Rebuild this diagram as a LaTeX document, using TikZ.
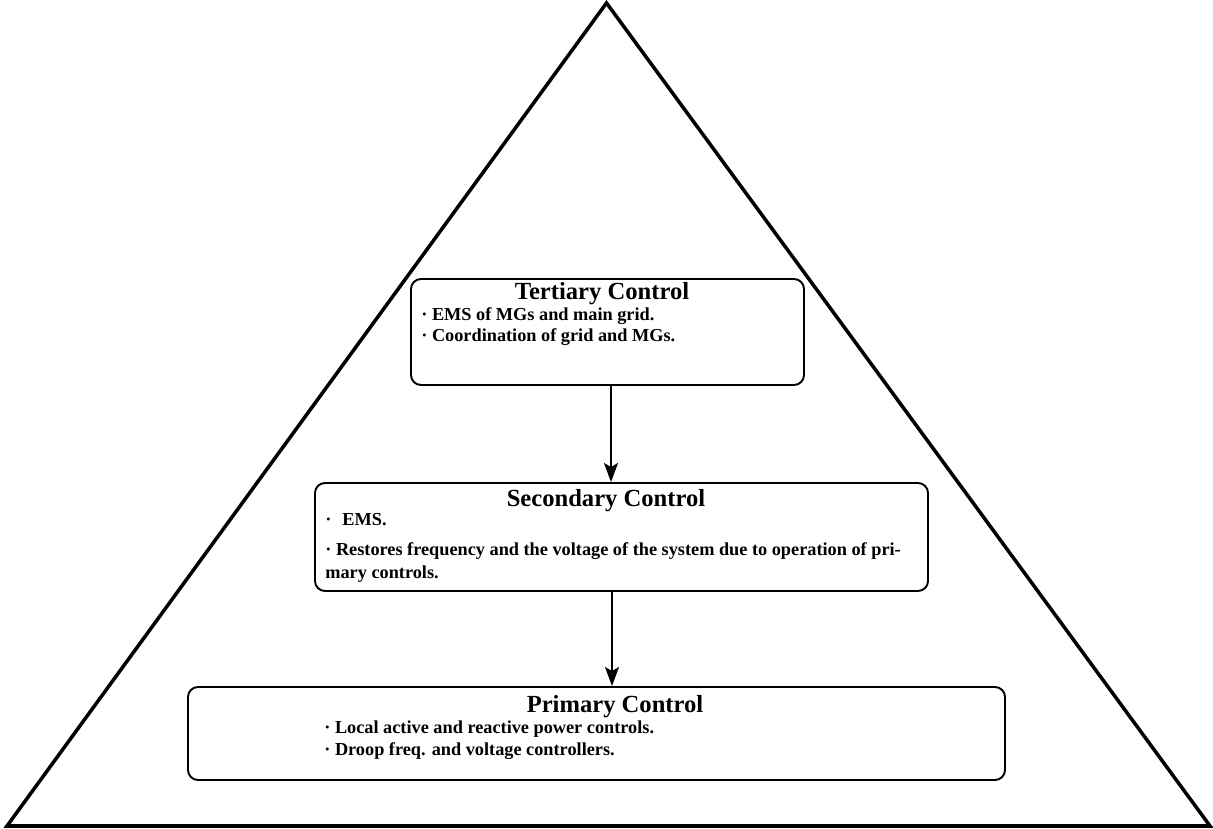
\documentclass[tikz,border=0pt]{standalone}
\usepackage{fontspec}
\setmainfont{Liberation Serif}
\usepackage{tikz}
\usetikzlibrary{arrows.meta,positioning,calc}

\begin{document}
\begin{tikzpicture}[font=\bfseries,
  ctrlbox/.style={draw,line width=1.1pt,rounded corners=2mm,inner sep=0pt},
  ttl/.style={anchor=base,inner sep=0pt,font=\bfseries\fontsize{14}{16}\selectfont},
  txt/.style={anchor=base west,inner sep=0pt,font=\bfseries\fontsize{10.4}{12.5}\selectfont},
  flow/.style={line width=1.1pt,-{Stealth[length=3.8mm,width=2.8mm,inset=0.8mm]}}]
  \useasboundingbox (0,0) rectangle (24.26,16.58);
  % pyramid
  \draw[line width=2pt,line join=miter] (0.14,0.06) -- (12.13,16.52) -- (24.2,0.06) -- cycle;
  % control levels
  \node[ctrlbox,minimum width=7.86cm,minimum height=2.12cm] (tert) at (12.15,9.94) {};
  \node[ctrlbox,minimum width=12.26cm,minimum height=2.16cm] (sec) at (12.43,5.84) {};
  \node[ctrlbox,minimum width=16.34cm,minimum height=1.86cm] (prim) at (11.93,1.91) {};
  \node[ttl] (tertT) at (12.04,10.58) {Tertiary Control};
  \node[txt] (tert1) at (8.42,10.16) {· EMS of MGs and main grid.};
  \node[txt] (tert2) at (8.42,9.74) {· Coordination of grid and MGs.};
  \node[ttl] (secT) at (12.12,6.44) {Secondary Control};
  \node[txt] (sec1) at (6.50,6.06) {·\hspace{0.6em}EMS.};
  \node[txt] (sec2) at (6.50,5.46) {· Restores frequency and the voltage of the system due to operation of pri-};
  \node[txt] (sec3) at (6.50,5.00) {mary controls.};
  \node[ttl] (primT) at (12.30,2.32) {Primary Control};
  \node[txt] (prim1) at (6.48,1.91) {· Local active and reactive power controls.};
  \node[txt] (prim2) at (6.48,1.47) {· Droop freq. and voltage controllers.};
  \draw[flow] ([xshift=0.7mm]tert.south) -- ([xshift=0.7mm]tert.south |- sec.north);
  \draw[flow] ([xshift=-1.9mm]sec.south) -- ([xshift=-1.9mm]sec.south |- prim.north);
\end{tikzpicture}
\end{document}
